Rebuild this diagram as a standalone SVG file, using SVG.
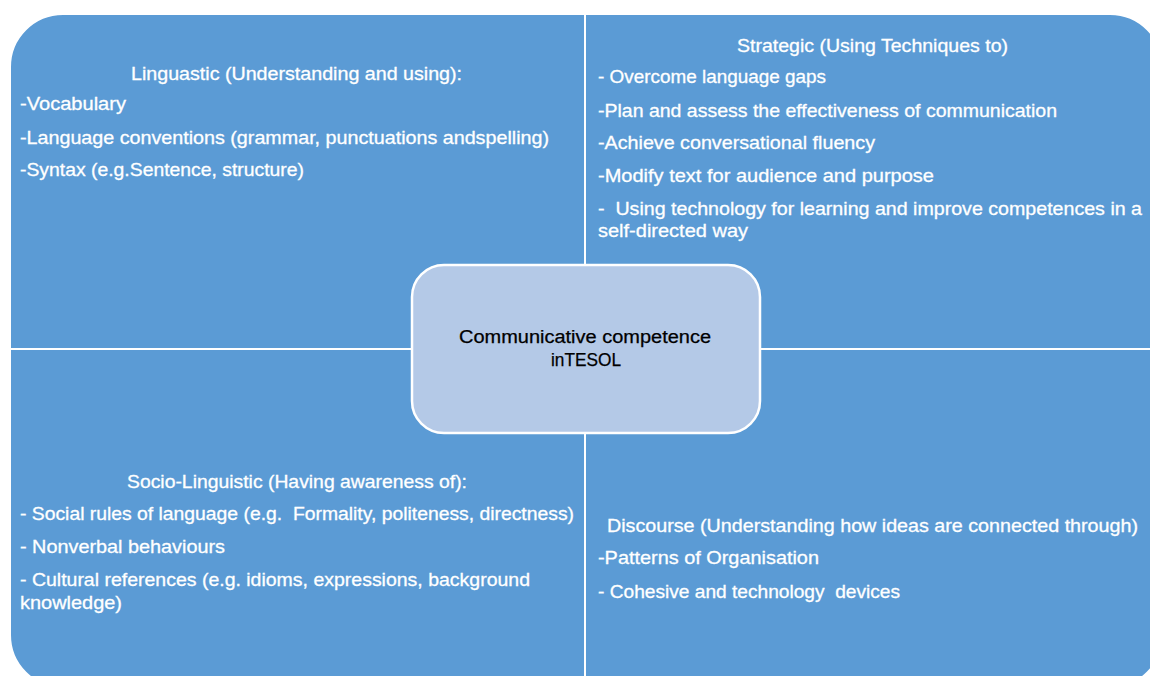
<svg xmlns="http://www.w3.org/2000/svg" width="1150" height="676" viewBox="0 0 1150 676">
<style>
.q{fill:#5B9BD5;stroke:#FFFFFF;stroke-width:2}
.t{font-family:"Liberation Sans",Arial,sans-serif;font-size:18.5px;fill:#FFFFFF;stroke:#FFFFFF;stroke-width:0.3}
.c{font-family:"Liberation Sans",Arial,sans-serif;font-size:18px;fill:#000000;stroke:#000000;stroke-width:0.25}
.ctr{fill:#B4C9E7;stroke:#FFFFFF;stroke-width:2.5}
</style>
<rect width="1150" height="676" fill="#FFFFFF"/>
<g id="linguistic">
<path class="q" d="M10,67 A53,53 0 0 1 63,14 L585,14 L585,349 L10,349 Z"/>
<text class="t" x="131" y="80" textLength="331" lengthAdjust="spacingAndGlyphs">Linguastic (Understanding and using):</text>
<text class="t" x="20" y="110" textLength="106" lengthAdjust="spacingAndGlyphs">-Vocabulary</text>
<text class="t" x="20" y="144" textLength="529" lengthAdjust="spacingAndGlyphs">-Language conventions (grammar, punctuations andspelling)</text>
<text class="t" x="20" y="176" textLength="284" lengthAdjust="spacingAndGlyphs">-Syntax (e.g.Sentence, structure)</text>
</g>
<g id="strategic">
<path class="q" d="M585,14 L1110,14 A53,53 0 0 1 1163,67 L1163,349 L585,349 Z"/>
<text class="t" x="737" y="52" textLength="271" lengthAdjust="spacingAndGlyphs">Strategic (Using Techniques to)</text>
<text class="t" x="598" y="83" textLength="228" lengthAdjust="spacingAndGlyphs">- Overcome language gaps</text>
<text class="t" x="598" y="117" textLength="459" lengthAdjust="spacingAndGlyphs">-Plan and assess the effectiveness of communication</text>
<text class="t" x="598" y="149" textLength="277" lengthAdjust="spacingAndGlyphs">-Achieve conversational fluency</text>
<text class="t" x="598" y="182" textLength="336" lengthAdjust="spacingAndGlyphs">-Modify text for audience and purpose</text>
<text class="t" x="598" y="215" textLength="544" lengthAdjust="spacingAndGlyphs" xml:space="preserve">-  Using technology for learning and improve competences in a</text>
<text class="t" x="598" y="237" textLength="150" lengthAdjust="spacingAndGlyphs">self-directed way</text>
</g>
<g id="sociolinguistic">
<path class="q" d="M10,349 L585,349 L585,688 L63,688 A53,53 0 0 1 10,635 Z"/>
<text class="t" x="127" y="488" textLength="340" lengthAdjust="spacingAndGlyphs">Socio-Linguistic (Having awareness of):</text>
<text class="t" x="20" y="520" textLength="554" lengthAdjust="spacingAndGlyphs" xml:space="preserve">- Social rules of language (e.g.  Formality, politeness, directness)</text>
<text class="t" x="20" y="553" textLength="205" lengthAdjust="spacingAndGlyphs">- Nonverbal behaviours</text>
<text class="t" x="20" y="586" textLength="510" lengthAdjust="spacingAndGlyphs">- Cultural references (e.g. idioms, expressions, background</text>
<text class="t" x="20" y="609" textLength="102" lengthAdjust="spacingAndGlyphs">knowledge)</text>
</g>
<g id="discourse">
<path class="q" d="M585,349 L1163,349 L1163,635 A53,53 0 0 1 1110,688 L585,688 Z"/>
<text class="t" x="607" y="532" textLength="531" lengthAdjust="spacingAndGlyphs">Discourse (Understanding how ideas are connected through)</text>
<text class="t" x="598" y="564" textLength="221" lengthAdjust="spacingAndGlyphs">-Patterns of Organisation</text>
<text class="t" x="598" y="598" textLength="302" lengthAdjust="spacingAndGlyphs" xml:space="preserve">- Cohesive and technology  devices</text>
</g>
<g id="connectors"></g>
<g id="center">
<rect class="ctr" x="412" y="265" width="348" height="168" rx="32" ry="32"/>
<text class="c" x="459" y="343" textLength="252" lengthAdjust="spacingAndGlyphs">Communicative competence</text>
<text class="c" x="551" y="366" textLength="70" lengthAdjust="spacingAndGlyphs">inTESOL</text>
</g>
</svg>
